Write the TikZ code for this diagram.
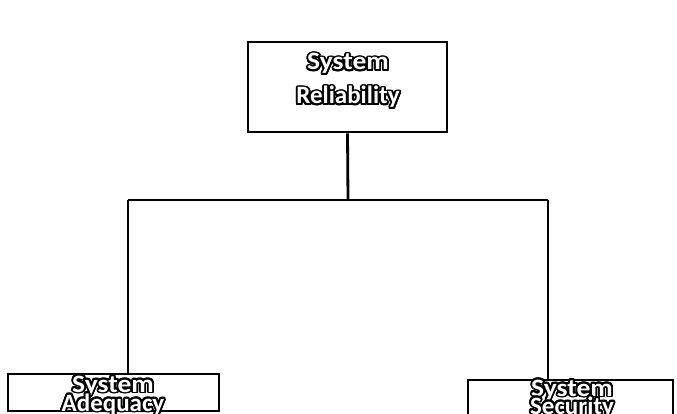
\documentclass[tikz,border=0pt]{standalone}
\usepackage{fontspec}
\setmainfont{Carlito}
\usetikzlibrary{calc}
% white letters with a dark rim, placed on their baseline
\newcommand{\rimtext}[3][1]{%
  \foreach \a in {0,20,...,340}
    \node[lbl,text=black] at ($(#2)+(\a:1.8)$) {\scalebox{#1}[1]{#3}};
  \node[lbl,text=white] at (#2) {\scalebox{#1}[1]{#3}};}
\begin{document}
\begin{tikzpicture}[x=1pt,y=-1pt,
  box/.style={draw=black,line width=2.8pt,fill=white,inner sep=0pt},
  link/.style={draw=black,line width=2.8pt},
  lbl/.style={font=\fontsize{25}{30}\selectfont\bfseries,inner sep=0pt,anchor=base}]
\useasboundingbox (0,0) rectangle (677,414);
% boxes
\node[box,minimum width=199pt,minimum height=90pt] (top) at (347.5,87) {};
\node[box,minimum width=211pt,minimum height=37pt] (left) at (113.5,392.5) {};
\node[box,minimum width=205pt,minimum height=50pt] (right) at (570.5,405) {};
% connectors
\coordinate (bus) at (348,200);
\coordinate (busL) at (128,200);
\coordinate (busR) at (548,200);
\draw[link] (top.south) -- (bus);
\draw[link] (busL) -- (busR);
\draw[link] (busL) -- (busL |- left.north);
\draw[link] (busR) -- (busR |- right.north);
% labels
\coordinate (t1) at (348,70);
\coordinate (t2) at (348,104);
\coordinate (l1) at (113,392);
\coordinate (l2) at (113,411);
\coordinate (r1) at (572,396);
\coordinate (r2) at (572,414);
\rimtext[1.1]{t1}{System}
\rimtext{t2}{Reliability}
\rimtext[1.1]{l1}{System}
\rimtext{l2}{Adequacy}
\rimtext[1.1]{r1}{System}
\rimtext{r2}{Security}
\end{tikzpicture}
\end{document}
